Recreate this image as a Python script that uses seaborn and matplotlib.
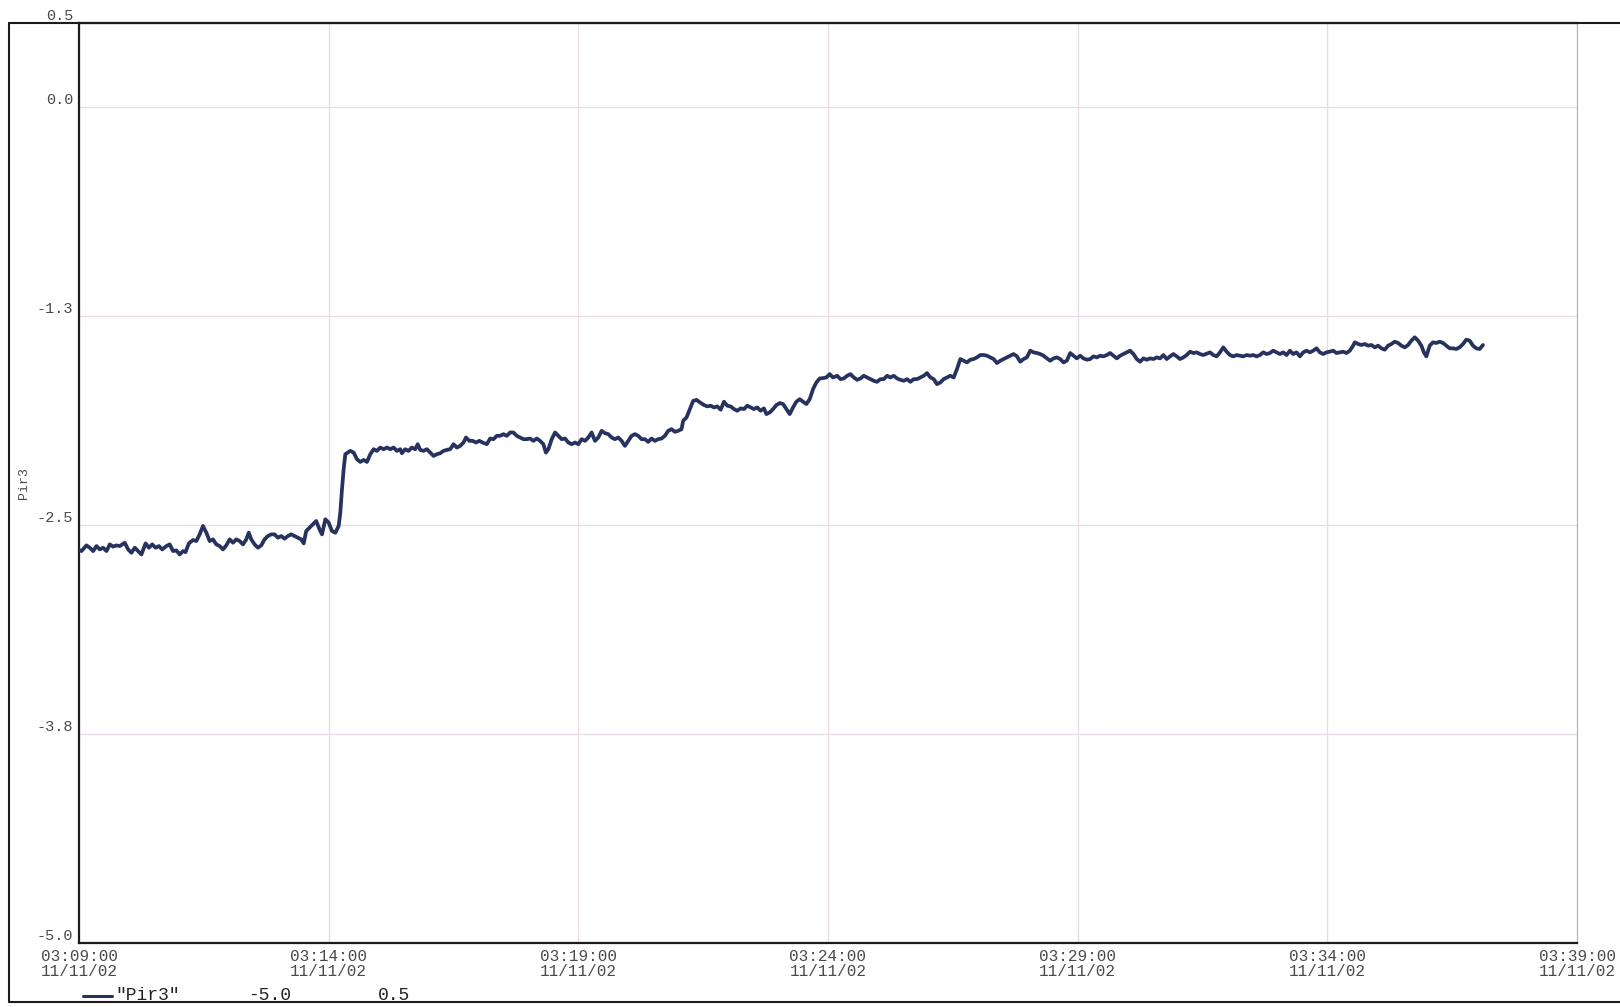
import matplotlib
matplotlib.use("Agg")
import matplotlib.pyplot as plt
import matplotlib.dates as mdates
from matplotlib.lines import Line2D
import pandas as pd
import seaborn as sns

# Pir3 readings, seconds after 03:09:00 on 11/11/02
elapsed_s = [
    0, 3, 9, 13, 17, 21, 25, 29, 33, 37, 41, 45, 49, 55, 59, 63, 67, 71, 75, 80,
    84, 88, 92, 96, 100, 105, 109, 113, 117, 121, 125, 128, 132, 137, 141, 145, 149, 153, 157, 161,
    165, 169, 173, 177, 181, 185, 189, 193, 197, 201, 204, 207, 211, 215, 219, 223, 227, 231, 235, 239,
    243, 247, 251, 255, 259, 263, 267, 270, 273, 277, 281, 285, 289, 292, 296, 300, 304, 308, 312, 314,
    316, 318, 320,
    326, 330, 334, 338, 342, 346, 350, 354, 358, 362, 366, 370, 374, 378, 382, 386, 388, 392, 396, 400,
    404, 407, 410, 414, 418, 422, 426, 430, 434, 438, 442, 446, 450, 454, 458, 462, 465, 469, 473, 477,
    481, 485, 490, 494, 498, 502, 506, 510, 514, 518, 522, 526, 530, 534, 538, 542, 546, 550, 554, 558,
    561, 564, 568, 572, 576, 580, 584, 588, 592, 596, 600, 604, 608, 612, 616, 620, 624, 628, 632, 636,
    640, 644, 648, 652, 656, 660, 664, 668, 672, 676, 680, 684, 688, 692, 696, 700, 704, 708, 712, 716,
    720, 724, 726, 730, 734, 738, 742, 746,
    751, 755, 759, 763, 767, 771, 775, 779, 783, 787, 791, 795, 799, 803, 807, 811, 815, 819, 823, 826,
    830, 834, 838, 842, 846, 850, 854, 858, 862, 866, 870, 874, 878, 882, 886, 890, 894, 898, 902, 906,
    911, 915, 919, 923, 927, 931, 935, 939, 943, 947, 951, 955, 959, 963, 967, 971, 975, 979, 983, 987,
    991, 995, 999, 1003, 1007, 1011, 1015, 1019, 1023, 1027, 1031, 1035, 1039, 1043, 1047, 1051, 1055, 1059, 1063, 1067,
    1071, 1075, 1079, 1083, 1087, 1091, 1095, 1099, 1103, 1107, 1111, 1115, 1119, 1123, 1127, 1131, 1135, 1139, 1143, 1147,
    1151, 1155, 1159, 1163, 1167, 1171, 1175, 1179, 1183, 1187, 1191, 1195, 1199,
    1203, 1207, 1211, 1215, 1219, 1223, 1227, 1231, 1235, 1239, 1243, 1247, 1251, 1255, 1259, 1263, 1267, 1271, 1275, 1279,
    1283, 1287, 1291, 1295, 1299, 1303, 1307, 1311, 1315, 1319, 1323, 1327, 1331, 1335, 1339, 1343, 1347, 1351, 1355, 1359,
    1363, 1367, 1371, 1375, 1379, 1383, 1387, 1391, 1395, 1399, 1403, 1407, 1411, 1415, 1419, 1423, 1427, 1431, 1435, 1439,
    1443, 1447, 1451, 1455, 1459, 1463, 1467, 1471, 1475, 1479, 1483, 1487, 1491, 1495, 1499, 1503, 1507, 1511, 1515, 1519,
    1523, 1527, 1531, 1533, 1537, 1541, 1545, 1549, 1553, 1557, 1561, 1565, 1569, 1573, 1577, 1581, 1585, 1589, 1593, 1597,
    1601, 1605, 1609, 1613, 1616, 1619, 1623, 1627, 1631, 1635, 1639, 1643, 1647, 1651, 1655, 1659, 1663, 1667, 1671, 1675,
    1679, 1683, 1687,
]

pir3 = [
    -2.650, -2.657, -2.623, -2.637, -2.657, -2.627, -2.647, -2.637, -2.657, -2.617, -2.630, -2.623, -2.627, -2.607, -2.647, -2.667, -2.637, -2.657, -2.677, -2.611,
    -2.637, -2.617, -2.637, -2.627, -2.647, -2.627, -2.617, -2.657, -2.653, -2.677, -2.657, -2.663, -2.611, -2.591, -2.597, -2.557, -2.507, -2.547, -2.597, -2.587,
    -2.617, -2.627, -2.647, -2.623, -2.587, -2.607, -2.587, -2.597, -2.617, -2.587, -2.547, -2.587, -2.617, -2.637, -2.623, -2.587, -2.567, -2.557, -2.557, -2.577,
    -2.567, -2.583, -2.567, -2.557, -2.567, -2.577, -2.587, -2.611, -2.537, -2.517, -2.497, -2.477, -2.527, -2.557, -2.467, -2.487, -2.537, -2.547, -2.507, -2.427,
    -2.287, -2.168, -2.078,
    -2.058, -2.068, -2.108, -2.124, -2.112, -2.124, -2.078, -2.048, -2.058, -2.038, -2.048, -2.038, -2.048, -2.038, -2.058, -2.048, -2.072, -2.048, -2.058, -2.038,
    -2.048, -2.018, -2.052, -2.058, -2.048, -2.068, -2.088, -2.078, -2.072, -2.058, -2.052, -2.048, -2.018, -2.038, -2.028, -2.008, -1.978, -1.998, -1.998, -2.008,
    -1.998, -2.008, -2.018, -1.984, -1.988, -1.968, -1.968, -1.958, -1.968, -1.948, -1.948, -1.968, -1.978, -1.988, -1.988, -1.984, -1.998, -1.984, -1.998, -2.018,
    -2.068, -2.048, -1.988, -1.948, -1.968, -1.988, -1.984, -2.008, -2.018, -2.008, -2.018, -1.988, -1.998, -1.978, -1.948, -1.998, -1.978, -1.938, -1.952, -1.958,
    -1.978, -1.988, -1.978, -1.998, -2.028, -1.998, -1.968, -1.958, -1.968, -1.988, -1.988, -2.004, -1.984, -1.998, -1.988, -1.984, -1.968, -1.938, -1.928, -1.944,
    -1.938, -1.928, -1.878, -1.858, -1.808, -1.759, -1.753, -1.768,
    -1.784, -1.792, -1.788, -1.798, -1.792, -1.812, -1.764, -1.788, -1.792, -1.808, -1.818, -1.804, -1.808, -1.788, -1.798, -1.808, -1.798, -1.818, -1.804, -1.838,
    -1.828, -1.808, -1.784, -1.772, -1.778, -1.808, -1.838, -1.798, -1.764, -1.749, -1.764, -1.778, -1.749, -1.689, -1.649, -1.625, -1.623, -1.619, -1.599, -1.619,
    -1.609, -1.629, -1.625, -1.609, -1.599, -1.619, -1.633, -1.625, -1.609, -1.619, -1.629, -1.639, -1.645, -1.629, -1.629, -1.609, -1.619, -1.609, -1.625, -1.633,
    -1.639, -1.629, -1.645, -1.629, -1.629, -1.619, -1.609, -1.593, -1.619, -1.629, -1.659, -1.649, -1.629, -1.619, -1.609, -1.619, -1.569, -1.509, -1.519, -1.529,
    -1.513, -1.509, -1.499, -1.485, -1.485, -1.489, -1.499, -1.509, -1.533, -1.519, -1.509, -1.499, -1.489, -1.479, -1.493, -1.525, -1.509, -1.499, -1.459, -1.469,
    -1.473, -1.479, -1.489, -1.505, -1.519, -1.505, -1.499, -1.509, -1.529, -1.519, -1.473, -1.489, -1.505,
    -1.489, -1.505, -1.513, -1.509, -1.493, -1.499, -1.489, -1.493, -1.485, -1.473, -1.489, -1.505, -1.489, -1.479, -1.469, -1.459, -1.479, -1.509, -1.525, -1.505,
    -1.513, -1.505, -1.509, -1.499, -1.505, -1.485, -1.509, -1.493, -1.479, -1.493, -1.509, -1.499, -1.485, -1.465, -1.473, -1.469, -1.479, -1.485, -1.477, -1.469,
    -1.485, -1.493, -1.469, -1.439, -1.465, -1.485, -1.493, -1.485, -1.489, -1.493, -1.485, -1.489, -1.485, -1.493, -1.485, -1.469, -1.479, -1.473, -1.459, -1.469,
    -1.479, -1.469, -1.485, -1.459, -1.479, -1.469, -1.493, -1.469, -1.459, -1.469, -1.459, -1.445, -1.469, -1.479, -1.469, -1.465, -1.459, -1.473, -1.469, -1.465,
    -1.473, -1.459, -1.429, -1.409, -1.419, -1.425, -1.419, -1.429, -1.425, -1.439, -1.429, -1.445, -1.453, -1.429, -1.419, -1.405, -1.413, -1.429, -1.439, -1.425,
    -1.399, -1.379, -1.399, -1.429, -1.469, -1.493, -1.429, -1.409, -1.413, -1.405, -1.413, -1.429, -1.445, -1.445, -1.449, -1.439, -1.419, -1.393, -1.399, -1.429,
    -1.445, -1.449, -1.425,
]

start_time = "2002-11-11 03:09:00"
end_time = "2002-11-11 03:39:00"
x_tick_step = "5min"
y_ticks = [-5.0, -3.75, -2.5, -1.25, 0.0, 0.5]
y_tick_labels = ["-5.0", "-3.8", "-2.5", "-1.3", "0.0", "0.5"]
series_name = "Pir3"
scale_min_label = "-5.0"
scale_max_label = "0.5"

LINE_COLOR = "#27325f"
GRID_COLOR = "#e6dbe6"
TEXT_COLOR = "#4a4a4a"
FRAME_COLOR = "#1c1c1c"

sns.set_style("white")
plt.rcParams["font.family"] = ["Liberation Mono", "DejaVu Sans Mono"]

t0 = pd.Timestamp(start_time)
df = pd.DataFrame({
    "time": t0 + pd.to_timedelta(elapsed_s, unit="s"),
    series_name: pir3,
})

W, H = 1620, 1007
fig = plt.figure(figsize=(W / 100, H / 100), dpi=100)
ax = fig.add_axes([79 / W, 1 - 943 / H, 1498 / W, 920 / H])

sns.lineplot(data=df, x="time", y=series_name, ax=ax, color=LINE_COLOR,
             linewidth=2.7, legend=False, zorder=3)

ax.set_xlim(pd.Timestamp(start_time), pd.Timestamp(end_time))
ax.set_ylim(-5.0, 0.5)

ax.set_xticks(pd.date_range(start_time, end_time, freq=x_tick_step))
ax.xaxis.set_major_formatter(mdates.DateFormatter("%H:%M:%S\n%m/%d/%y"))
ax.set_yticks(y_ticks)
ax.set_yticklabels(y_tick_labels)

ax.tick_params(axis="both", length=0, colors=TEXT_COLOR)
ax.tick_params(axis="x", pad=4, labelsize=11.5)
ax.tick_params(axis="y", pad=4, labelsize=11)
for lbl in ax.get_yticklabels():
    lbl.set_verticalalignment("bottom")
for lbl in ax.get_xticklabels():
    lbl.set_linespacing(1.05)

ax.set_xlabel("")
ax.set_ylabel(series_name, fontsize=9.5, color=TEXT_COLOR)
ax.yaxis.set_label_coords(-0.033, 0.5)

ax.grid(True, color=GRID_COLOR, linewidth=0.9)
ax.set_axisbelow(True)

for side in ("left", "bottom", "top"):
    ax.spines[side].set_color(FRAME_COLOR)
    ax.spines[side].set_linewidth(1.6)
ax.spines["right"].set_color("#b9b4bd")
ax.spines["right"].set_linewidth(0.9)

# outer frame around the chart area
fx0 = 9 / W
fy_top = 1 - 23 / H
fy_bot = 1 - 1002 / H
for xs, ys in (([fx0, fx0], [fy_bot, fy_top]),
               ([fx0, 1.0], [fy_top, fy_top]),
               ([fx0, 1.0], [fy_bot, fy_bot])):
    fig.add_artist(Line2D(xs, ys, transform=fig.transFigure,
                          color=FRAME_COLOR, linewidth=1.5))

# series key with scale range
ky = 1 - 996 / H
fig.add_artist(Line2D([83 / W, 112 / W], [ky, ky], transform=fig.transFigure,
                      color=LINE_COLOR, linewidth=2.2))
fig.text(115 / W, ky, f'"{series_name}"', fontsize=13, color="#222222",
         ha="left", va="center")
fig.text(248 / W, ky, scale_min_label, fontsize=13, color="#222222",
         ha="left", va="center")
fig.text(378 / W, ky, scale_max_label, fontsize=13, color="#222222",
         ha="left", va="center")

fig.savefig("out.png", dpi=100, facecolor="white")
